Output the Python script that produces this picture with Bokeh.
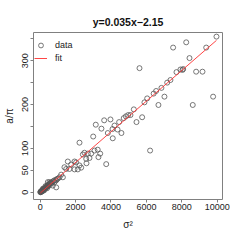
from bokeh.plotting import figure
from bokeh.models import Range1d, FixedTicker, Legend, LegendItem
from bokeh.embed import file_html
from bokeh.resources import INLINE

title_text = "y=0.035x\u22122.15"
x_label = "\u03c3\u00b2"
y_label = "a/\u03c0"
slope = 0.035
intercept = -2.15

sigma2 = [
    9960, 9380, 8250, 7510, 5610, 8435, 8080, 7925, 8040, 8810, 9170, 7700,
    7360, 7175, 6850, 6550, 6410, 7020, 6045, 5890, 9770, 8620, 6680, 5290,
    5100, 4970, 4840, 4720, 5760, 5440, 6210,
    4590, 4100, 4200, 4460, 4085, 4370, 3140, 3615, 3970, 3460, 2995, 3820, 2220,
    3250, 3070, 2880, 2500, 2410, 2690, 2600, 2785, 3390, 3290, 3730, 2615,
    1560, 1940, 2030, 1750, 1655, 1940, 2125, 1370, 1470, 2220, 2315,
    1185, 1090, 1000, 1280, 905, 525, 620, 430, 712, 905, 340, 470, 810,
    10, 20, 30, 40, 50, 60, 70, 80, 90, 100, 110, 125, 140, 150, 165, 180,
    195, 210, 230, 250, 270, 290, 310, 330, 360, 380, 400, 420, 450, 480,
    500, 560, 600, 650, 700, 760, 850, 950, 150, 220, 300, 390,
]
a_over_pi = [
    355, 330, 342, 330, 283, 306, 281, 280, 279, 275, 275, 274,
    256, 250, 238, 231, 225, 218, 214, 205, 218, 199, 199, 189,
    176, 176, 173, 169, 171, 160, 95,
    135, 123, 152, 160, 144, 143, 154, 164, 166, 145, 127, 135, 113,
    97, 95, 88, 90, 86, 88, 76, 78, 88, 80, 64, 66,
    70, 70, 68, 63, 53, 52, 52, 57, 53, 61, 56,
    40, 34, 31, 34, 27, 23, 19, 23, 15, 11, 11, 14, 23,
    0, 1, 0, 1, 2, 1, 2, 3, 2, 3, 4, 3, 4, 5, 5, 6,
    7, 6, 8, 7, 9, 10, 9, 12, 12, 14, 13, 16, 15, 17,
    18, 20, 22, 21, 24, 26, 28, 30, 8, 4, 14, 9,
]

x_ticks = [0, 2000, 4000, 6000, 8000, 10000]
y_ticks = [0, 50, 100, 150, 200, 250, 300, 350]
y_tick_labels = {0: "0", 50: "50", 100: "100", 150: "", 200: "200", 250: "", 300: "300", 350: ""}

fit_x = [min(sigma2), max(sigma2)]
fit_y = [slope * v + intercept for v in fit_x]

FONT = "Liberation Sans"
TXT = "#222222"
BOX = "#808080"

W, H = 240, 240
BL, BR, BT, BB = 33, 18, 32, 41
FW, FH = W - BL - BR, H - BT - BB

p = figure(width=W, height=H, output_backend="svg", toolbar_location=None,
           x_range=Range1d(-378, 10300), y_range=Range1d(-16.7, 364.4),
           min_border_left=BL, min_border_right=BR, min_border_top=BT, min_border_bottom=BB)

p.title.text = title_text
p.title.align = "center"
p.title.text_font = FONT
p.title.text_font_size = "10.5px"
p.title.text_font_style = "bold"
p.title.text_color = "#111111"
p.title.standoff = 9

p.grid.visible = False
p.outline_line_color = BOX
p.outline_line_width = 1
p.background_fill_color = "white"
p.border_fill_color = "white"

p.xaxis.ticker = FixedTicker(ticks=x_ticks)
p.yaxis.ticker = FixedTicker(ticks=y_ticks)
p.yaxis.major_label_overrides = y_tick_labels
p.xaxis.bounds = (0, 10000)
p.yaxis.bounds = (0, 350)
for ax in (p.xaxis, p.yaxis):
    ax.axis_line_color = BOX
    ax.major_tick_line_color = BOX
    ax.minor_tick_line_color = None
    ax.major_tick_in = 0
    ax.major_tick_out = 3
    ax.major_label_text_font = FONT
    ax.major_label_text_font_size = "9px"
    ax.major_label_text_color = TXT
    ax.axis_label_text_font = FONT
    ax.axis_label_text_font_size = "10px"
    ax.axis_label_text_font_style = "normal"
    ax.axis_label_text_color = TXT
p.yaxis.major_label_orientation = "vertical"
p.xaxis.major_label_standoff = 1
p.yaxis.major_label_standoff = 2
p.xaxis.axis_label = x_label
p.yaxis.axis_label = y_label
p.xaxis.axis_label_standoff = 6
p.yaxis.axis_label_standoff = 5

pts = p.scatter(sigma2, a_over_pi, size=5, marker="circle", fill_color=None,
                line_color="#555555", line_width=0.8)
ln = p.line(fit_x, fit_y, line_color="#ff3030", line_width=0.9)

legend = Legend(items=[LegendItem(label="data", renderers=[pts]),
                       LegendItem(label="fit", renderers=[ln])],
                location=(1, FH - 6.5 - 25))
legend.border_line_alpha = 0
legend.background_fill_alpha = 0
legend.label_text_font = FONT
legend.label_text_font_size = "9px"
legend.label_text_color = TXT
legend.glyph_width = 13
legend.glyph_height = 12
legend.label_height = 12
legend.spacing = 1
legend.label_standoff = 8
legend.padding = 0
legend.margin = 0
p.add_layout(legend)

open("out.html", "w").write(file_html(p, INLINE))
